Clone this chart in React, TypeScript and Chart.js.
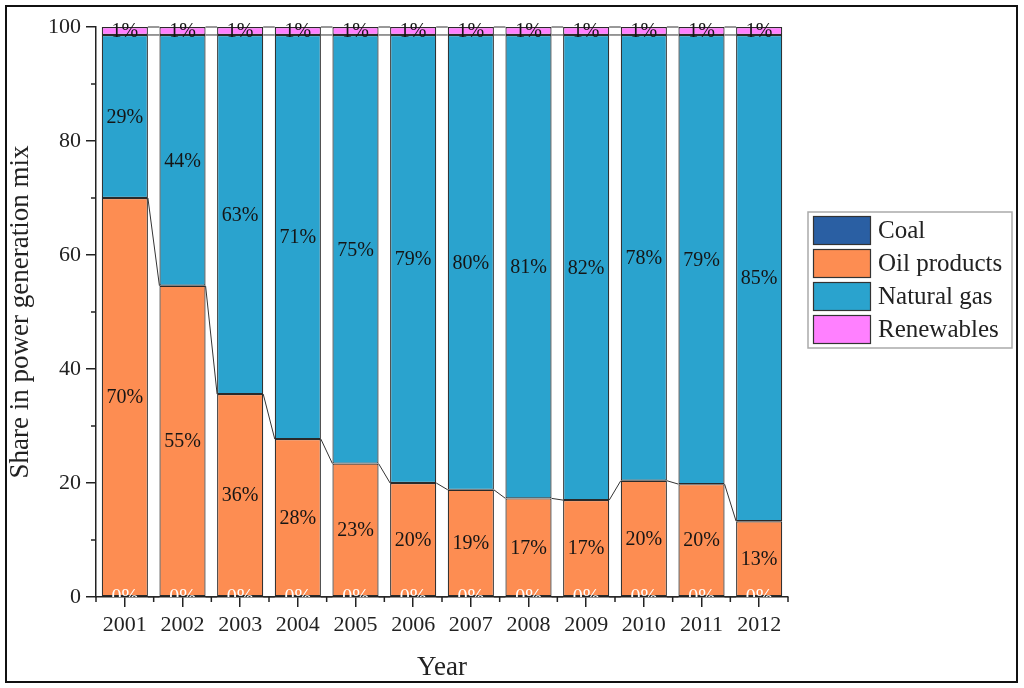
import React, { useEffect, useRef } from "react";
import { Chart, registerables } from "chart.js";

Chart.register(...registerables);

const years = ["2001", "2002", "2003", "2004", "2005", "2006", "2007", "2008", "2009", "2010", "2011", "2012"];
const coal = [0, 0, 0, 0, 0, 0, 0, 0, 0, 0, 0, 0];
const oilProducts = [70.0, 54.6, 35.6, 27.7, 23.4, 20.0, 18.8, 17.3, 17.0, 20.4, 19.8, 13.3];
const naturalGas = [28.6, 44.0, 63.0, 70.9, 75.2, 78.6, 79.8, 81.3, 81.6, 78.2, 78.8, 85.3];
const renewables = [1.4, 1.4, 1.4, 1.4, 1.4, 1.4, 1.4, 1.4, 1.4, 1.4, 1.4, 1.4];
const yTicks = [0, 20, 40, 60, 80, 100];
const yMinorTicks = [10, 30, 50, 70, 90];

const FONT = "'Liberation Serif', 'DejaVu Serif', serif";
const INK = "#222222";

const framePlugin = {
  id: "frame",
  afterDraw(chart: any) {
    const ctx = chart.ctx;
    ctx.save();
    ctx.strokeStyle = "#111";
    ctx.lineWidth = 2;
    ctx.strokeRect(6, 6, 1011, 676);
    ctx.restore();
  },
};

const connectorPlugin = {
  id: "connectors",
  afterDatasetsDraw(chart: any) {
    const ctx = chart.ctx;
    ctx.save();
    ctx.strokeStyle = "#333";
    ctx.lineWidth = 1;
    chart.data.datasets.forEach((_ds: any, di: number) => {
      const meta = chart.getDatasetMeta(di);
      const els = meta.data;
      for (let i = 0; i < els.length - 1; i++) {
        const a = els[i];
        const b = els[i + 1];
        ctx.beginPath();
        ctx.moveTo(a.x + a.width / 2, a.y);
        ctx.lineTo(b.x - b.width / 2, b.y);
        ctx.stroke();
      }
    });
    ctx.restore();
  },
};

const labelPlugin = {
  id: "segLabels",
  afterDatasetsDraw(chart: any) {
    const ctx = chart.ctx;
    const area = chart.chartArea;
    ctx.save();
    ctx.beginPath();
    ctx.rect(area.left, area.top - 10, area.right - area.left, area.bottom - area.top + 10);
    ctx.clip();
    ctx.font = `20px ${FONT}`;
    ctx.textAlign = "center";
    ctx.textBaseline = "middle";
    chart.data.datasets.forEach((ds: any, di: number) => {
      const meta = chart.getDatasetMeta(di);
      meta.data.forEach((el: any, i: number) => {
        const v = ds.data[i];
        ctx.fillStyle = di === 0 ? "#ffffff" : "#151515";
        const y = (el.y + el.base) / 2;
        ctx.fillText(Math.round(v) + "%", el.x, y + 1);
      });
    });
    ctx.restore();
  },
};

const minorTickPlugin = {
  id: "minorTicks",
  afterDraw(chart: any) {
    const ctx = chart.ctx;
    const x = chart.scales.x;
    const y = chart.scales.y;
    ctx.save();
    ctx.strokeStyle = INK;
    ctx.lineWidth = 1.5;
    const slot = x.getPixelForValue(1) - x.getPixelForValue(0);
    for (let i = 0; i <= years.length; i++) {
      const px = x.getPixelForValue(0) - slot / 2 + i * slot;
      ctx.beginPath();
      ctx.moveTo(px, x.top);
      ctx.lineTo(px, x.top + 5);
      ctx.stroke();
    }
    yMinorTicks.forEach((v) => {
      const py = y.getPixelForValue(v);
      ctx.beginPath();
      ctx.moveTo(y.right, py);
      ctx.lineTo(y.right - 5, py);
      ctx.stroke();
    });
    ctx.restore();
  },
};

const legendPlugin = {
  id: "customLegend",
  afterDraw(chart: any) {
    const ctx = chart.ctx;
    const bx = 808;
    const by = 212;
    const bw = 204;
    const bh = 136;
    ctx.save();
    ctx.strokeStyle = "#aaaaaa";
    ctx.lineWidth = 1.5;
    ctx.strokeRect(bx, by, bw, bh);
    ctx.font = `25px ${FONT}`;
    ctx.textAlign = "left";
    ctx.textBaseline = "middle";
    chart.data.datasets.forEach((ds: any, i: number) => {
      const sy = by + 4 + i * 33;
      ctx.fillStyle = ds.backgroundColor;
      ctx.fillRect(813, sy, 57, 28);
      ctx.strokeStyle = "#333";
      ctx.lineWidth = 1.2;
      ctx.strokeRect(813.5, sy + 0.5, 57, 28);
      ctx.fillStyle = INK;
      ctx.fillText(ds.label, 878, sy + 15);
    });
    ctx.restore();
  },
};

export default function App() {
  const ref = useRef<HTMLCanvasElement | null>(null);

  useEffect(() => {
    document.body.style.margin = "0";
    const canvas = ref.current;
    if (!canvas) return;
    const common = {
      borderColor: "#2a2a2a",
      borderWidth: 1.2,
      borderSkipped: false,
      barPercentage: 0.8,
      categoryPercentage: 1.0,
    };
    const chart = new Chart(canvas, {
      type: "bar",
      data: {
        labels: years,
        datasets: [
          { label: "Coal", data: coal, backgroundColor: "#2A5FA3", ...common },
          { label: "Oil products", data: oilProducts, backgroundColor: "#FD8D52", ...common },
          { label: "Natural gas", data: naturalGas, backgroundColor: "#2AA3CE", ...common },
          { label: "Renewables", data: renewables, backgroundColor: "#FF80FF", ...common },
        ],
      },
      options: {
        responsive: false,
        animation: false,
        devicePixelRatio: 1,
        layout: { padding: { top: 27, right: 236, left: 0, bottom: 0 } },
        plugins: {
          legend: { display: false },
          tooltip: { enabled: false },
        },
        scales: {
          x: {
            stacked: true,
            offset: true,
            grid: {
              offset: false,
              drawOnChartArea: false,
              drawTicks: true,
              tickLength: 10,
              color: INK,
              lineWidth: 1.5,
            },
            border: { display: true, color: INK, width: 1.5 },
            ticks: {
              color: INK,
              font: { family: FONT, size: 22 },
              padding: 5,
              maxRotation: 0,
              autoSkip: false,
            },
            title: {
              display: true,
              text: "Year",
              color: INK,
              font: { family: FONT, size: 27 },
              padding: { top: 0, bottom: 4 },
            },
            afterFit(scale: any) {
              scale.height = 91;
            },
          },
          y: {
            stacked: true,
            min: 0,
            max: 100,
            afterBuildTicks(scale: any) {
              scale.ticks = yTicks.map((v) => ({ value: v }));
            },
            grid: {
              drawOnChartArea: false,
              drawTicks: true,
              tickLength: 10,
              color: INK,
              lineWidth: 1.5,
            },
            border: { display: true, color: INK, width: 1.5 },
            ticks: {
              color: INK,
              font: { family: FONT, size: 22 },
              padding: 5,
            },
            title: {
              display: true,
              text: "Share in power generation mix",
              color: INK,
              font: { family: FONT, size: 27 },
              padding: { top: 5, bottom: 0 },
            },
            afterFit(scale: any) {
              scale.width = 96;
            },
          },
        },
      } as any,
      plugins: [connectorPlugin, labelPlugin, minorTickPlugin, legendPlugin, framePlugin],
    });
    return () => chart.destroy();
  }, []);

  return (
    <div style={{ width: 1024, height: 688, position: "relative", background: "#fff" }}>
      <canvas ref={ref} width={1024} height={688} style={{ display: "block" }} />
    </div>
  );
}
